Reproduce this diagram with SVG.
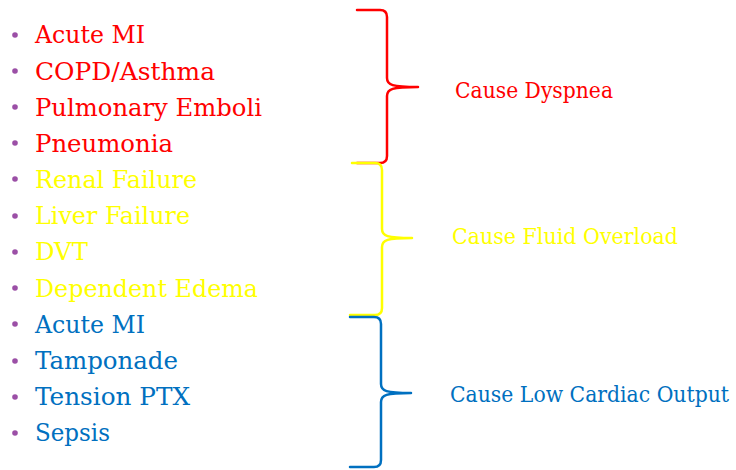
<svg xmlns="http://www.w3.org/2000/svg" width="736" height="470" viewBox="0 0 736 470">
  <style>
    .item { font-family: "DejaVu Serif", "Liberation Serif", serif; font-size: 24px; }
    .label { font-family: "DejaVu Serif", "Liberation Serif", serif; font-size: 22px; }
    .bullet { fill: #9b4fa6; }
    .red { fill: #ff0000; }
    .yellow { fill: #ffff00; }
    .blue { fill: #0070c0; }
    .brace { fill: none; stroke-width: 2.5; stroke-linecap: round; stroke-linejoin: round; }
  </style>
  <rect width="736" height="470" fill="#ffffff"/>

  <!-- Dyspnea causes -->
  <g id="group-dyspnea">
    <circle class="bullet" cx="15" cy="35" r="2.8"/>
    <text class="item red" x="35" y="43" textLength="110" lengthAdjust="spacingAndGlyphs">Acute MI</text>
    <circle class="bullet" cx="15" cy="71" r="2.8"/>
    <text class="item red" x="35" y="80" textLength="180" lengthAdjust="spacingAndGlyphs">COPD/Asthma</text>
    <circle class="bullet" cx="15" cy="107" r="2.8"/>
    <text class="item red" x="35" y="116" textLength="227" lengthAdjust="spacingAndGlyphs">Pulmonary Emboli</text>
    <circle class="bullet" cx="15" cy="143" r="2.8"/>
    <text class="item red" x="35" y="152" textLength="138" lengthAdjust="spacingAndGlyphs">Pneumonia</text>
  </g>

  <!-- Fluid overload causes -->
  <g id="group-fluid">
    <circle class="bullet" cx="15" cy="179" r="2.8"/>
    <text class="item yellow" x="35" y="188" textLength="162" lengthAdjust="spacingAndGlyphs">Renal Failure</text>
    <circle class="bullet" cx="15" cy="216" r="2.8"/>
    <text class="item yellow" x="35" y="224" textLength="155" lengthAdjust="spacingAndGlyphs">Liver Failure</text>
    <circle class="bullet" cx="15" cy="252" r="2.8"/>
    <text class="item yellow" x="35" y="260" textLength="53" lengthAdjust="spacingAndGlyphs">DVT</text>
    <circle class="bullet" cx="15" cy="288" r="2.8"/>
    <text class="item yellow" x="35" y="297" textLength="223" lengthAdjust="spacingAndGlyphs">Dependent Edema</text>
  </g>

  <!-- Low cardiac output causes -->
  <g id="group-output">
    <circle class="bullet" cx="15" cy="324" r="2.8"/>
    <text class="item blue" x="35" y="333" textLength="110" lengthAdjust="spacingAndGlyphs">Acute MI</text>
    <circle class="bullet" cx="15" cy="361" r="2.8"/>
    <text class="item blue" x="35" y="369" textLength="143" lengthAdjust="spacingAndGlyphs">Tamponade</text>
    <circle class="bullet" cx="15" cy="397" r="2.8"/>
    <text class="item blue" x="35" y="405" textLength="155" lengthAdjust="spacingAndGlyphs">Tension PTX</text>
    <circle class="bullet" cx="15" cy="433" r="2.8"/>
    <text class="item blue" x="35" y="441" textLength="75" lengthAdjust="spacingAndGlyphs">Sepsis</text>
  </g>

  <!-- Braces grouping the lists -->
  <g id="connectors">
    <path class="brace" stroke="#ff0000" d="M357,10 L380,10 Q387,10 387,17 L387,78 C387,85 392,87 418,87 C392,87 387,89 387,96 L387,156 Q387,163 380,163 L357,163"/>
    <path class="brace" stroke="#ffff00" d="M352,163 L375,163 Q382,163 382,170 L382,229 C382,236 387,238 412,238 C387,238 382,240 382,247 L382,308 Q382,315 375,315 L350,315"/>
    <path class="brace" stroke="#0070c0" d="M350,317 L374,317 Q381,317 381,324 L381,384 C381,391 386,393 411,393 C386,393 381,395 381,402 L381,460 Q381,467 374,467 L350,467"/>
  </g>

  <!-- Group labels -->
  <g id="label-dyspnea">
    <text class="label red" x="455" y="98" textLength="158" lengthAdjust="spacingAndGlyphs">Cause Dyspnea</text>
  </g>
  <g id="label-fluid">
    <text class="label yellow" x="452" y="244" textLength="226" lengthAdjust="spacingAndGlyphs">Cause Fluid Overload</text>
  </g>
  <g id="label-output">
    <text class="label blue" x="450" y="402" textLength="279" lengthAdjust="spacingAndGlyphs">Cause Low Cardiac Output</text>
  </g>
</svg>
